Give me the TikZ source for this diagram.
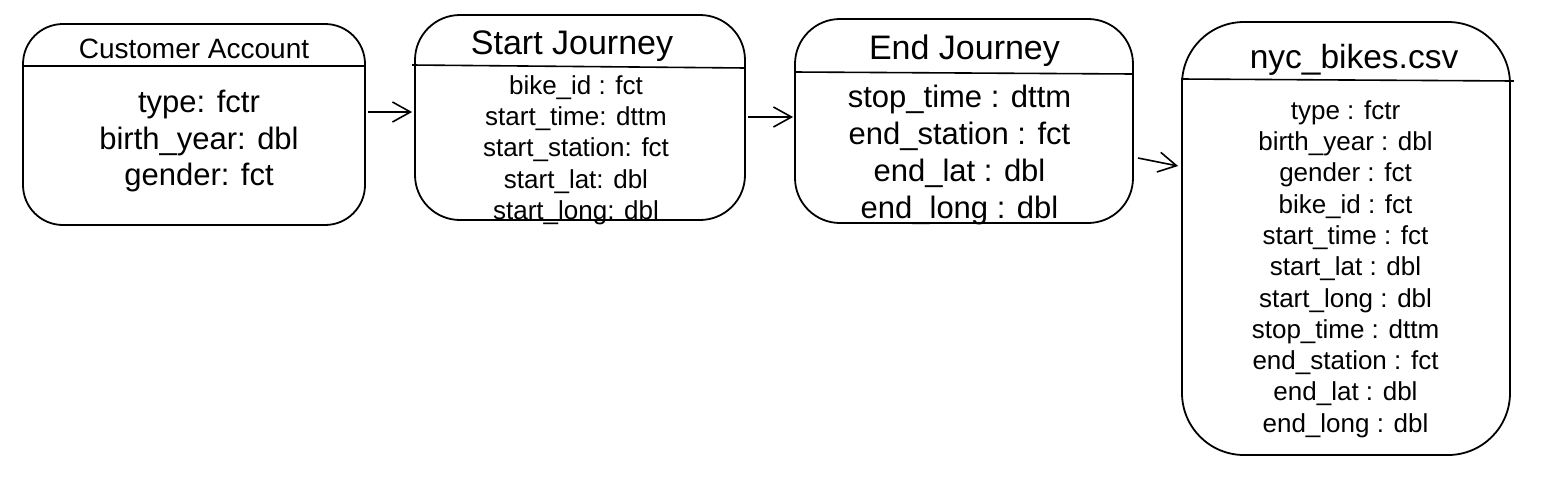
\documentclass[tikz,border=0pt]{standalone}
\usepackage{fontspec}
\setmainfont{Liberation Sans}
\usetikzlibrary{arrows.meta}
\begin{document}
\begin{tikzpicture}[x=1pt,y=-1pt,
  box/.style={draw, line width=1.8pt, inner sep=0pt, rectangle},
  sep/.style={line width=1.6pt},
  arr/.style={line width=1.6pt, -{Straight Barb[length=18pt,width=20pt,line width=1.6pt]}},
  txt/.style={inner sep=0pt, align=center}]
\useasboundingbox (0,0) rectangle (1551,483);
% boxes
\node[box, rounded corners=40pt, minimum width=342pt, minimum height=201pt] (b1) at (194,124.5) {};
\node[box, rounded corners=45pt, minimum width=330pt, minimum height=205pt] (b2) at (580,117.5) {};
\node[box, rounded corners=45pt, minimum width=338pt, minimum height=204pt] (b3) at (964,121) {};
\node[box, rounded corners=62pt, minimum width=328pt, minimum height=433pt] (b4) at (1346,238.5) {};
% header separators
\draw[sep] (b1.west |- 0,66) -- (b1.east |- 0,66);
\draw[sep] ([xshift=-2pt]b2.west |- 0,65) -- (b2.east |- 0,68);
\draw[sep] (b3.west |- 0,72) -- (b3.east |- 0,74);
\draw[sep] (b4.west |- 0,79) -- ([xshift=3pt]b4.east |- 0,81);
% titles
\node[txt, font=\fontsize{28}{33}\selectfont] (t1) at (194,49) {Customer Account};
\node[txt, font=\fontsize{34}{40}\selectfont] (t2) at (572,46) {Start Journey};
\node[txt, font=\fontsize{34}{40}\selectfont] (t3) at (964.5,51) {End Journey};
\node[txt, font=\fontsize{33.5}{40}\selectfont] (t4) at (1354,60) {nyc\_bikes.csv};
% bodies
\node[txt, font=\fontsize{31}{36.5}\selectfont] (c1) at (199,141) {type: fctr\\birth\_year: dbl\\gender: fct};
\node[txt, font=\fontsize{26}{31.3}\selectfont] (c2) at (576,150) {bike\_id : fct\\start\_time: dttm\\start\_station: fct\\start\_lat: dbl\\start\_long: dbl};
\node[txt, font=\fontsize{31}{36.7}\selectfont] (c3) at (959.5,155) {stop\_time : dttm\\end\_station : fct\\end\_lat : dbl\\end\_long : dbl};
\node[txt, font=\fontsize{26}{31.3}\selectfont] (c4) at (1345.5,269) {type : fctr\\birth\_year : dbl\\gender : fct\\bike\_id : fct\\start\_time : fct\\start\_lat : dbl\\start\_long : dbl\\stop\_time : dttm\\end\_station : fct\\end\_lat : dbl\\end\_long : dbl};
% connectors
\draw[arr] ([xshift=2pt]b1.east |- 0,112) -- ([xshift=-2pt]b2.west |- 0,112);
\draw[arr] ([xshift=2pt]b2.east |- 0,117) -- ([xshift=-1pt]b3.west |- 0,117);
\draw[arr] ([xshift=4pt]b3.east |- 0,158) -- ([xshift=-3pt]b4.west |- 0,166);
\end{tikzpicture}
\end{document}
